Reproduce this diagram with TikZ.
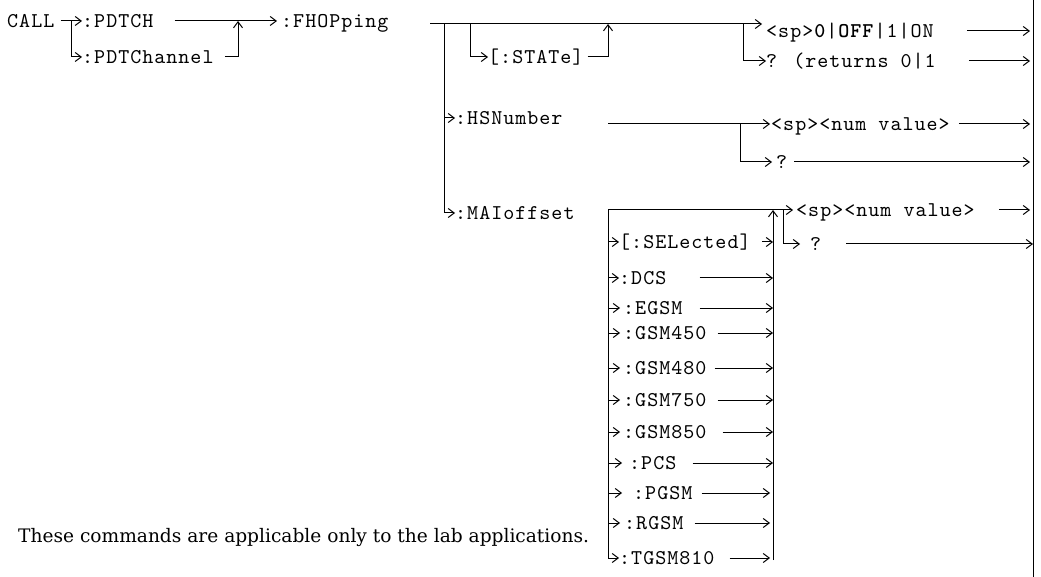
\documentclass[tikz,border=0pt]{standalone}
\usepackage{fontspec}
\setmainfont{DejaVu Serif}
\newfontfamily\cmdfont{lmmono10-regular.otf}[LetterSpace=4.8, BoldFont=lmmonolt10-bold.otf]
\usepackage{tikz}
\usetikzlibrary{arrows.meta, positioning, calc}

\begin{document}
\begin{tikzpicture}[
    x=1pt, y=-1pt,
    cmd/.style={anchor=west, inner sep=0pt, text height=12.8pt, text depth=0pt, font=\cmdfont\fontsize{21}{21}\selectfont},
    note/.style={anchor=west, inner sep=0pt, font=\fontsize{18.6}{19}\selectfont},
    line/.style={line width=1pt},
    arrow/.style={line width=1pt, -{Straight Barb[length=6pt, width=9pt]}},
]
    \useasboundingbox (0,0) rectangle (1041,577);

    % Right rule
    \coordinate (ruletop) at (1033,0);
    \coordinate (rulebot) at (1033,577);
    \draw[line] (ruletop) -- (rulebot);

    % Row 1: CALL
    \node[cmd] (call) at (7,21) {CALL};
    \node[cmd] (pdtch) at (82,21) {:PDTCH};
    \node[cmd] (pdtchannel) at (82,57) {:PDTChannel};
    \node[cmd] (fhop) at (281,21) {:FHOPping};
    \coordinate (callsplit) at (71,21);
    \coordinate (pdtmerge) at (238,21);

    \draw[arrow] ([xshift=6pt]call.east) -- (pdtch.west);
    \draw[arrow] (callsplit) |- (pdtchannel.west);
    \draw[arrow, shorten >=4pt] ([xshift=21pt]pdtch.east) -- (fhop.west);
    \draw[arrow] ([xshift=11pt]pdtchannel.east) -| (pdtmerge);

    % Row 2: FHOPping branches
    \coordinate (fhstart) at (430,24);
    \coordinate (fhsplit) at (444,24);
    \coordinate (statesplit) at (470,24);
    \coordinate (statemerge) at (608,24);
    \coordinate (querysplit) at (743,24);
    \coordinate (booltip) at (762,24);
    \node[cmd] (state) at (488,57) {[:STATe]};
    \node[cmd] (bool) at (766,31) {<sp>\textbf{0}|\textbf{OFF}|1|ON};
    \node[cmd] (boolq) at (766,61) {? (returns 0|1};

    \draw[arrow] (fhstart) -- (booltip);
    \draw[arrow] (statesplit) |- (state.west);
    \draw[arrow] ([xshift=4pt]state.east) -| (statemerge);
    \draw[arrow] (querysplit) |- (boolq.west);
    \draw[arrow, shorten >=3pt] ([xshift=33pt]bool.east) -- (bool.east -| ruletop);
    \draw[arrow, shorten >=3pt] ([xshift=33pt]boolq.east) -- (boolq.east -| ruletop);

    % Row 3: HSNumber
    \node[cmd] (hsnum) at (455,118) {:HSNumber};
    \node[cmd] (hsval) at (771,124) {<sp><num value>};
    \node[cmd] (hsq) at (776,162) {?};
    \coordinate (hsstart) at (608,124);
    \coordinate (hsqsplit) at (740,124);

    \draw[arrow] (fhsplit |- hsnum.west) -- (hsnum.west);
    \draw[arrow, shorten >=1pt] (hsstart) -- (hsval.west);
    \draw[arrow, shorten >=4pt] (hsqsplit) |- (hsq.west);
    \draw[arrow, shorten >=3pt] ([xshift=9pt]hsval.east) -- (hsval.east -| ruletop);
    \draw[arrow, shorten >=3pt] ([xshift=7pt]hsq.east) -- (hsq.east -| ruletop);

    % Row 4: MAIoffset
    \node[cmd] (maioff) at (455,213) {:MAIoffset};
    \node[cmd] (maival) at (796,210) {<sp><num value>};
    \node[cmd] (maiq) at (810,244) {?};
    \coordinate (boxtl) at (608,210);
    \coordinate (boxtr) at (773,210);
    \coordinate (boxbr) at (773,560);
    \coordinate (maiqsplit) at (783,210);

    \draw[arrow] (fhsplit) |- (maioff.west);
    \draw[arrow, shorten >=3pt] (boxtl) -- (maival.west);
    \draw[arrow] (boxbr) -- (boxtr);
    \draw[arrow, shorten >=10pt] (maiqsplit) |- (maiq.west);
    \draw[arrow, shorten >=3pt] ([xshift=24pt]maival.east) -- (maival.east -| ruletop);
    \draw[arrow] ([xshift=25pt]maiq.east) -- (maiq.east -| ruletop);

    % Band list
    \node[cmd] (sel) at (619,242) {[:SELected]};
    \node[cmd] (dcs) at (619,278) {:DCS};
    \node[cmd] (egsm) at (623,308) {:EGSM};
    \node[cmd] (gsmf) at (623,333) {:GSM450};
    \node[cmd] (gsme) at (623,368) {:GSM480};
    \node[cmd] (gsms) at (623,400) {:GSM750};
    \node[cmd] (gsmh) at (623,432) {:GSM850};
    \node[cmd] (pcs) at (629,463) {:PCS};
    \node[cmd] (pgsm) at (633,493) {:PGSM};
    \node[cmd] (rgsm) at (624,523) {:RGSM};
    \node[cmd] (tgsm) at (619,558) {:TGSM810};

    \draw[arrow] (boxtl) |- (tgsm.west);
    \draw[arrow] (boxtl |- sel.west) -- (sel.west);
    \draw[arrow] (boxtl |- dcs.west) -- (dcs.west);
    \draw[arrow, shorten >=3pt] (boxtl |- egsm.west) -- (egsm.west);
    \draw[arrow, shorten >=3pt] (boxtl |- gsmf.west) -- (gsmf.west);
    \draw[arrow, shorten >=3pt] (boxtl |- gsme.west) -- (gsme.west);
    \draw[arrow, shorten >=3pt] (boxtl |- gsms.west) -- (gsms.west);
    \draw[arrow, shorten >=3pt] (boxtl |- gsmh.west) -- (gsmh.west);
    \draw[arrow, shorten >=7pt] (boxtl |- pcs.west) -- (pcs.west);
    \draw[arrow, shorten >=11pt] (boxtl |- pgsm.west) -- (pgsm.west);
    \draw[arrow, shorten >=4pt] (boxtl |- rgsm.west) -- (rgsm.west);

    \draw[arrow] ([xshift=11pt]sel.east) -- (boxtr |- sel.west);
    \draw[arrow] ([xshift=33pt]dcs.east) -- (boxtr |- dcs.west);
    \draw[arrow] ([xshift=17pt]egsm.east) -- (boxtr |- egsm.west);
    \draw[arrow] ([xshift=11pt]gsmf.east) -- (boxtr |- gsmf.west);
    \draw[arrow] ([xshift=8pt]gsme.east) -- (boxtr |- gsme.west);
    \draw[arrow] ([xshift=11pt]gsms.east) -- (boxtr |- gsms.west);
    \draw[arrow] ([xshift=16pt]gsmh.east) -- (boxtr |- gsmh.west);
    \draw[arrow] ([xshift=16pt]pcs.east) -- (boxtr |- pcs.west);
    \draw[arrow, shorten >=3pt] ([xshift=9pt]pgsm.east) -- (boxtr |- pgsm.west);
    \draw[arrow, shorten >=3pt] ([xshift=11pt]rgsm.east) -- (boxtr |- rgsm.west);
    \draw[arrow, shorten >=3pt] ([xshift=15pt]tgsm.east) -- (boxtr |- tgsm.west);

    % Note
    \node[note] (labnote) at (18,537) {These commands are applicable only to the lab applications.};
\end{tikzpicture}
\end{document}
